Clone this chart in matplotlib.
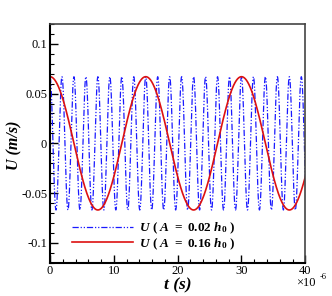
import numpy as np
import matplotlib
matplotlib.use("Agg")
import matplotlib.pyplot as plt
from matplotlib.ticker import MultipleLocator

# amplitude and periods (time in microseconds)
AMPLITUDE = 0.067
PERIOD_SMALL_A = 1.875   # A = 0.02 h0
PERIOD_LARGE_A = 15.0    # A = 0.16 h0
T_END = 40.0

X_TICKS = [0, 10, 20, 30, 40]
Y_TICKS = [-0.1, -0.05, 0, 0.05, 0.1]
Y_TICK_LABELS = ["-0.1", "-0.05", "0", "0.05", "0.1"]
LABELS = [r"$U\ (\ A\ =\ 0.02\ h_0\ )$",
          r"$U\ (\ A\ =\ 0.16\ h_0\ )$"]

plt.rcParams["font.family"] = "Liberation Serif"
plt.rcParams["mathtext.fontset"] = "custom"
plt.rcParams["mathtext.rm"] = "Liberation Serif:bold"
plt.rcParams["mathtext.it"] = "Liberation Serif:italic:bold"
plt.rcParams["mathtext.bf"] = "Liberation Serif:italic:bold"


def main() -> None:
    t = np.linspace(0, T_END, 20000)
    u_small = AMPLITUDE * np.cos(2 * np.pi * t / PERIOD_SMALL_A)
    u_large = AMPLITUDE * np.cos(2 * np.pi * t / PERIOD_LARGE_A)

    fig = plt.figure(figsize=(3.32, 2.96), dpi=100)
    ax = fig.add_axes([0.1506, 0.1125, 0.769, 0.8065])

    ax.plot(t, u_small, color="#1a1aff", linewidth=0.9,
            dashes=(5, 1.5, 1, 1.5, 1, 1.5))
    ax.plot(t, u_large, color="#dd1111", linewidth=1.2)

    ax.set_xlim(0, T_END)
    ax.set_ylim(-0.12, 0.12)
    ax.set_xticks(X_TICKS)
    ax.set_xticklabels([str(v) for v in X_TICKS])
    ax.set_yticks(Y_TICKS)
    ax.set_yticklabels(Y_TICK_LABELS)
    ax.xaxis.set_minor_locator(MultipleLocator(2))
    ax.yaxis.set_minor_locator(MultipleLocator(0.01))
    ax.tick_params(which="both", direction="in", labelsize=9, top=False, right=False)
    ax.tick_params(which="major", length=6, width=1, pad=2)
    ax.tick_params(which="minor", length=3, width=0.8)
    for side in ["left", "bottom"]:
        ax.spines[side].set_linewidth(1.5)
    for side in ["top", "right"]:
        ax.spines[side].set_linewidth(1.2)
        ax.spines[side].set_color("#444444")

    ax.set_xlabel("t (s)", fontsize=12.5, fontweight="bold", fontstyle="italic")
    ax.xaxis.set_label_coords(0.5, -0.063)
    ax.set_ylabel("U (m/s)", fontsize=11.5, fontweight="bold", fontstyle="italic")
    ax.yaxis.set_label_coords(-0.11, 0.493)

    fig.text(0.892, 0.033, "\u00d710", fontsize=9, ha="left", va="baseline")
    fig.text(0.962, 0.057, "-6", fontsize=6, ha="left", va="baseline")

    ax.legend(LABELS, loc="upper left", bbox_to_anchor=(0.086, 0.175),
              frameon=False, fontsize=9.5, handlelength=4.6, handletextpad=0.5,
              labelspacing=0.0, borderpad=0, borderaxespad=0)

    fig.savefig("out.png", dpi=100)
    plt.close(fig)


if __name__ == "__main__":
    main()
